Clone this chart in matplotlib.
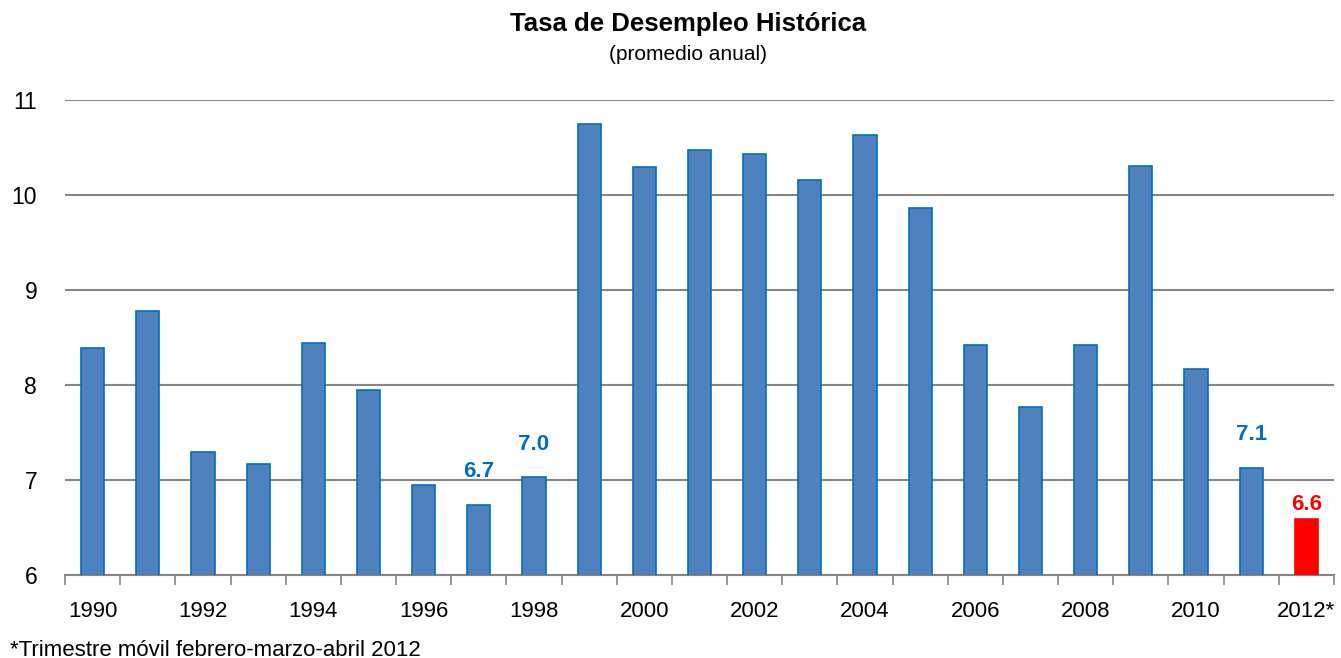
import matplotlib.pyplot as plt
import numpy as np

plt.rcParams['font.family'] = ['Liberation Sans', 'DejaVu Sans']

## Data

years = [str(y) for y in range(1990, 2012)] + ["2012*"]
tasa = [8.39, 8.78, 7.29, 7.17, 8.44, 7.95, 6.95, 6.74, 7.03, 10.75,
        10.29, 10.47, 10.43, 10.16, 10.63, 9.86, 8.42, 7.77, 8.42, 10.31,
        8.17, 7.13, 6.59]
labeled = ["1997", "1998", "2011", "2012*"]

## Plot

fig = plt.figure(figsize=(13.41, 6.58), dpi=100)
ax = fig.add_axes([65/1341, 1 - 575/658, (1334 - 65)/1341, (575 - 100)/658])

x = np.arange(len(years))
colors = ["#4F81BD"] * (len(years) - 1) + ["#FF0000"]
edges = ["#0070C0"] * (len(years) - 1) + ["#FF0000"]
ax.bar(x, tasa, width=0.42, bottom=0, color=colors, edgecolor=edges,
       linewidth=1.2, zorder=3)

for i, yr in enumerate(years):
    if yr in labeled:
        if yr == "2012*":
            c, off = "#FF0000", 14
        else:
            c, off = "#0070C0", 33
        ax.annotate("%.1f" % tasa[i], (x[i], tasa[i]), xytext=(0, off),
                    textcoords="offset pixels", ha="center", va="center",
                    fontsize=16, fontweight="bold", color=c)

ax.set_ylim(6, 11)
ax.set_xlim(-0.5, len(years) - 0.5)
ax.set_yticks([6, 7, 8, 9, 10, 11])
ax.yaxis.grid(True, color="#868686", linewidth=1.5, zorder=0)
ax.tick_params(axis="y", length=0, labelsize=16.5, pad=20)

ax.set_xticks(x[::2])
ax.set_xticklabels(years[::2], fontsize=16)
ax.set_xticks(np.arange(len(years) + 1) - 0.5, minor=True)
ax.tick_params(axis="x", which="major", length=0, pad=19)
ax.tick_params(axis="x", which="minor", length=7, color="#868686", width=1.2)

for s in ["top", "right", "left"]:
    ax.spines[s].set_visible(False)
ax.spines["bottom"].set_color("#868686")
ax.spines["bottom"].set_linewidth(1.5)

fig.text(688/1341, 1 - 24/658, "Tasa de Desempleo Histórica", ha="center",
         va="center", fontsize=18.5, fontweight="bold")
fig.text(688/1341, 1 - 54/658, "(promedio anual)", ha="center", va="center",
         fontsize=15)
fig.text(10/1341, 1 - 650/658, "*Trimestre móvil febrero-marzo-abril 2012",
         ha="left", va="center", fontsize=16)

plt.savefig("out.png", dpi=100)
